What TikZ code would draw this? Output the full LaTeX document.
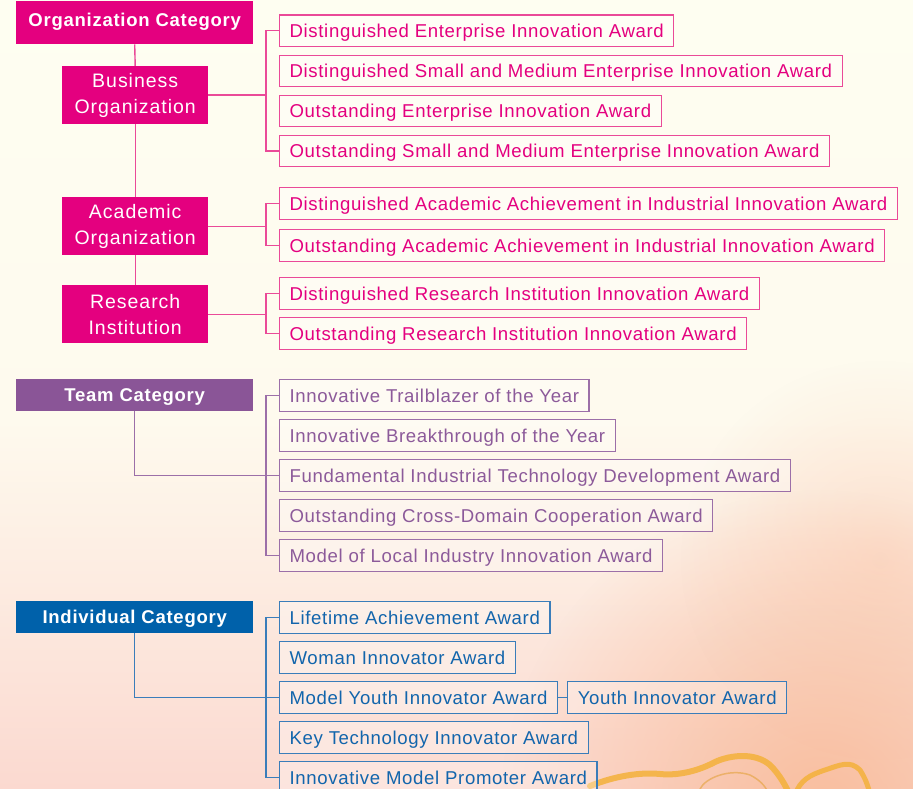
\documentclass[tikz,border=0pt]{standalone}
\usepackage{fontspec}
\setmainfont{Liberation Sans}
\newfontfamily\awardfont[LetterSpace=3.5]{Liberation Sans}
\newfontfamily\catfont[LetterSpace=4]{Liberation Sans}
\newfontfamily\subfont[LetterSpace=5]{Liberation Sans}
\usetikzlibrary{fadings}
\tikzfading[name=myfade, inner color=transparent!0, outer color=transparent!100]
\definecolor{mag}{HTML}{E4007F}
\definecolor{magline}{HTML}{EA4A98}
\definecolor{pur}{HTML}{8A5597}
\definecolor{purtxt}{HTML}{8C5A9A}
\definecolor{purline}{HTML}{9C6FA8}
\definecolor{blu}{HTML}{0061AA}
\definecolor{blutxt}{HTML}{1265AC}
\definecolor{bluline}{HTML}{3A7DBA}
\definecolor{bgtop}{HTML}{FEFEF1}
\definecolor{bgmid}{HTML}{FEFAEE}
\definecolor{bgbot}{HTML}{FBD9D0}
\definecolor{peach}{HTML}{F9BE9E}
\definecolor{gold}{HTML}{F4B13A}
\tikzset{
  cat/.style={fill=#1, text=white, font=\catfont\bfseries\fontsize{18.5}{22}\selectfont,
    minimum width=237pt, inner sep=0pt, anchor=north west, text height=13.3pt, text depth=0pt},
  sub/.style={fill=mag, text=white, font=\subfont\fontsize{19.5}{26}\selectfont,
    align=center, minimum width=146pt, minimum height=58pt, inner sep=0pt, anchor=north west},
  award/.style={draw=magline, text=mag, font=\awardfont\fontsize{18.6}{20}\selectfont,
    minimum height=31.4pt, inner xsep=10pt, inner ysep=0pt, anchor=west, line width=1.2pt,
    text height=13.2pt, text depth=0pt,
    fill=white, fill opacity=0.3, text opacity=1},
  awardp/.style={award, draw=purline, text=purtxt},
  awardb/.style={award, draw=bluline, text=blutxt},
  lnm/.style={draw=magline, line width=1.4pt},
  lnp/.style={draw=purline, line width=1.4pt},
  lnb/.style={draw=bluline, line width=1.4pt},
}
\begin{document}
\begin{tikzpicture}[x=1pt,y=-1pt]
\useasboundingbox (0,0) rectangle (913,789);
\clip (0,0) rectangle (913,789);
% background
\fill[bgtop] (0,0) rectangle (913,789);
\shade[top color=bgtop, bottom color=bgmid] (0,0) rectangle (913,420);
\shade[top color=bgmid, bottom color=bgbot] (0,420) rectangle (913,789);
\fill[peach, path fading=myfade] (820,810) circle (320pt);
\fill[peach, opacity=0.35, path fading=myfade] (880,560) circle (200pt);
% decorative squiggle
\draw[gold, line width=6pt, line join=round, line cap=round, opacity=0.85]
  (590,786) .. controls (615,776) and (640,772) .. (660,774)
  .. controls (680,776) and (700,770) .. (715,762)
  .. controls (730,755) and (755,752) .. (770,765)
  .. controls (780,775) and (785,785) .. (790,795);
\draw[gold, line width=5pt, line join=round, line cap=round, opacity=0.85]
  (795,795) .. controls (800,780) and (810,775) .. (825,770)
  .. controls (840,765) and (850,760) .. (860,770)
  .. controls (865,778) and (868,785) .. (870,795);
\draw[gold!70!brown, line width=1.5pt, opacity=0.6]
  (700,789) .. controls (705,778) and (730,768) .. (750,775)
  .. controls (760,780) and (765,786) .. (768,792);

% ---------- Organization category ----------
\node[cat=mag, minimum height=43pt, text depth=6.4pt] (org) at (16,1) {Organization Category};
\node[sub] (bus) at (62,66) {Business\\Organization};
\node[sub] (aca) at (62,197) {Academic\\Organization};
\node[sub] (res) at (62,285) {Research\\Institution};

\node[award] (a1) at (279,30.7) {Distinguished Enterprise Innovation Award};
\node[award] (a2) at (279,71) {Distinguished Small and Medium Enterprise Innovation Award};
\node[award] (a3) at (279,111) {Outstanding Enterprise Innovation Award};
\node[award] (a4) at (279,151) {Outstanding Small and Medium Enterprise Innovation Award};
\node[award] (a5) at (279,203.5) {Distinguished Academic Achievement in Industrial Innovation Award};
\node[award] (a6) at (279,245.5) {Outstanding Academic Achievement in Industrial Innovation Award};
\node[award] (a7) at (279,293.5) {Distinguished Research Institution Innovation Award};
\node[award] (a8) at (279,333.5) {Outstanding Research Institution Innovation Award};

% ---------- Team category ----------
\node[cat=pur, minimum height=32pt] (team) at (16,379) {Team Category};
\node[awardp] (t1) at (279,395.5) {Innovative Trailblazer of the Year};
\node[awardp] (t2) at (279,435.5) {Innovative Breakthrough of the Year};
\node[awardp] (t3) at (279,475.5) {Fundamental Industrial Technology Development Award};
\node[awardp] (t4) at (279,515.5) {Outstanding Cross-Domain Cooperation Award};
\node[awardp] (t5) at (279,555.5) {Model of Local Industry Innovation Award};

% ---------- Individual category ----------
\node[cat=blu, minimum height=32pt] (ind) at (16,601) {Individual Category};
\node[awardb] (i1) at (279,617.5) {Lifetime Achievement Award};
\node[awardb] (i2) at (279,657.5) {Woman Innovator Award};
\node[awardb] (i3) at (279,697.5) {Model Youth Innovator Award};
\node[awardb] (i4) at (279,737.5) {Key Technology Innovator Award};
\node[awardb] (i5) at (279,777.5) {Innovative Model Promoter Award};
\node[awardb, anchor=west] (iy) at ([xshift=9pt]i3.east) {Youth Innovator Award};

% ---------- connectors ----------
\coordinate (bx) at (266,0);
\draw[lnm] (org.south) -- (bus.north);
\draw[lnm] (bus.south) -- (aca.north);
\draw[lnm] (aca.south) -- (res.north);
\foreach \s/\f/\l in {bus/a1/a4, aca/a5/a6, res/a7/a8}{
  \draw[lnm] (\s.east) -- (\s.east -| bx);
  \draw[lnm] (\f.west) -- (\f.west -| bx) -- (\l.west -| bx) -- (\l.west);
}

% team
\draw[lnp] (team.south) -- (team.south |- t3.west) -- (t3.west);
\draw[lnp] (t1.west) -- (t1.west -| bx) -- (t5.west -| bx) -- (t5.west);

% individual
\draw[lnb] (ind.south) -- (ind.south |- i3.west) -- (i3.west);
\draw[lnb] (i1.west) -- (i1.west -| bx) -- (i5.west -| bx) -- (i5.west);
\draw[lnb] (i3.east) -- (iy.west);
\end{tikzpicture}
\end{document}
